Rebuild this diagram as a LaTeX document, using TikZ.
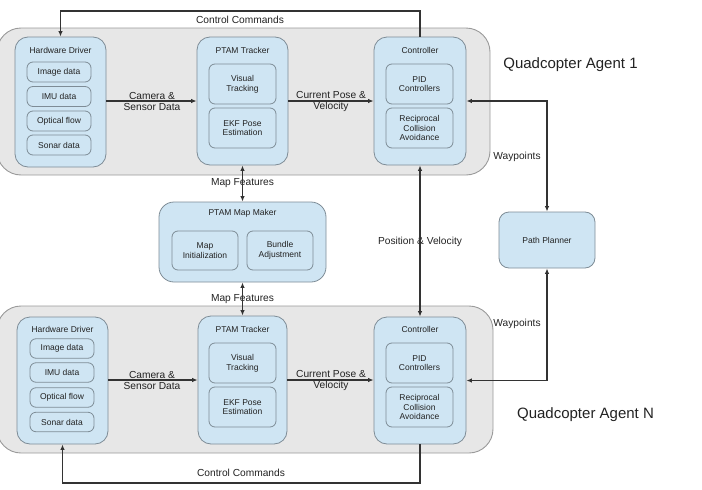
\documentclass[tikz,border=0pt]{standalone}
\usepackage{fontspec}
\setmainfont{Liberation Sans}
\usetikzlibrary{arrows.meta}
\definecolor{outerfill}{HTML}{E7E7E7}
\definecolor{outerline}{HTML}{9A9A9A}
\definecolor{bluefill}{HTML}{CFE5F3}
\definecolor{blueline}{HTML}{7E8C96}
\definecolor{linecol}{HTML}{333333}
\definecolor{txtcol}{HTML}{222222}
\newcommand\fsmall{\fontsize{8.5}{9.7}\selectfont}
\newcommand\flabel{\fontsize{10.2}{11.2}\selectfont}
\newcommand\fbig{\fontsize{15}{17}\selectfont}
\begin{document}
\begin{tikzpicture}[x=1pt,y=-1pt,
  outerbox/.style={draw=outerline, fill=outerfill, line width=0.9pt, rounded corners=24pt, inner sep=0pt},
  bigbox/.style={draw=blueline, fill=bluefill, line width=0.8pt, rounded corners=13pt, inner sep=0pt},
  smallbox/.style={draw=blueline, fill=bluefill, line width=0.8pt, rounded corners=6pt, inner sep=0pt, align=center, font=\fsmall, text=txtcol},
  title/.style={font=\fsmall, text=txtcol, inner sep=0pt},
  lbl/.style={font=\flabel, text=txtcol, align=center, inner sep=0pt},
  biglbl/.style={font=\fbig, text=txtcol, inner sep=0pt},
  conn/.style={draw=linecol, line width=1.2pt},
  arr/.style={conn, -{Latex[length=5.5pt,width=4.5pt]}},
  arrtwo/.style={conn, {Latex[length=5.5pt,width=4.5pt]}-{Latex[length=5.5pt,width=4.5pt]}}
]
\useasboundingbox (0,0) rectangle (702,490);

% ---------- Agent 1 ----------
\node[outerbox, minimum width=493pt, minimum height=147pt] (out1) at (243.5,101.5) {};
\node[bigbox, minimum width=91pt, minimum height=130pt] (hd1) at (60.5,102) {};
\node[title] (hd1t) at (60.5,50) {Hardware Driver};
\node[smallbox, minimum width=64pt, minimum height=20pt] (img1) at (59,72) {Image data};
\node[smallbox, minimum width=64pt, minimum height=20pt] (imu1) at (59,96.5) {IMU data};
\node[smallbox, minimum width=64pt, minimum height=20pt] (opt1) at (59,121) {Optical flow};
\node[smallbox, minimum width=64pt, minimum height=20pt] (son1) at (59,145) {Sonar data};

\node[bigbox, minimum width=91pt, minimum height=128pt] (trk1) at (242.5,101) {};
\node[title] (trk1t) at (242.5,50) {PTAM Tracker};
\node[smallbox, minimum width=67pt, minimum height=40pt] (vis1) at (242.5,84) {Visual\\Tracking};
\node[smallbox, minimum width=67pt, minimum height=40pt] (ekf1) at (242.5,128) {EKF Pose\\Estimation};

\node[bigbox, minimum width=92pt, minimum height=128pt] (ctl1) at (420,101) {};
\node[title] (ctl1t) at (420,50) {Controller};
\node[smallbox, minimum width=67pt, minimum height=40pt] (pid1) at (419.5,84) {PID\\Controllers};
\node[smallbox, minimum width=67pt, minimum height=40pt] (rca1) at (419.5,128) {Reciprocal\\Collision\\Avoidance};

\node[biglbl] (qa1) at (570.5,65) {Quadcopter Agent 1};

% ---------- Agent N ----------
\node[outerbox, minimum width=496pt, minimum height=147pt] (out2) at (245,379.5) {};
\node[bigbox, minimum width=91pt, minimum height=127pt] (hd2) at (62.5,380.5) {};
\node[title] (hd2t) at (62.5,329) {Hardware Driver};
\node[smallbox, minimum width=64pt, minimum height=19.5pt] (img2) at (62,348.5) {Image data};
\node[smallbox, minimum width=64pt, minimum height=19.5pt] (imu2) at (62,372.5) {IMU data};
\node[smallbox, minimum width=64pt, minimum height=19.5pt] (opt2) at (62,397.5) {Optical flow};
\node[smallbox, minimum width=64pt, minimum height=19.5pt] (son2) at (62,422) {Sonar data};

\node[bigbox, minimum width=89pt, minimum height=128pt] (trk2) at (242.5,380) {};
\node[title] (trk2t) at (242.5,329) {PTAM Tracker};
\node[smallbox, minimum width=67pt, minimum height=40pt] (vis2) at (242.5,363) {Visual\\Tracking};
\node[smallbox, minimum width=67pt, minimum height=40pt] (ekf2) at (242.5,407) {EKF Pose\\Estimation};

\node[bigbox, minimum width=92pt, minimum height=127pt] (ctl2) at (420,380.5) {};
\node[title] (ctl2t) at (420,329) {Controller};
\node[smallbox, minimum width=67pt, minimum height=40pt] (pid2) at (419.5,363) {PID\\Controllers};
\node[smallbox, minimum width=67pt, minimum height=40pt] (rca2) at (419.5,407) {Reciprocal\\Collision\\Avoidance};

\node[biglbl] (qan) at (585.5,415) {Quadcopter Agent N};

% ---------- Map maker ----------
\node[bigbox, rounded corners=15pt, minimum width=167pt, minimum height=80pt] (mm) at (242.5,242) {};
\node[title] (mmt) at (242.5,213) {PTAM Map Maker};
\node[smallbox, minimum width=66pt, minimum height=39pt] (mi) at (205,250.5) {Map\\Initialization};
\node[smallbox, minimum width=66pt, minimum height=39pt] (ba) at (280,250.5) {Bundle\\Adjustment};

% ---------- Path planner ----------
\node[smallbox, rounded corners=10pt, minimum width=96pt, minimum height=56pt] (pp) at (547,240) {Path Planner};

% ---------- Connectors ----------
\draw[arr] (hd1.east |- 0,101) -- (trk1.west |- 0,101);
\node[lbl] (cam1) at (152,101.5) {Camera \&\\Sensor Data};
\draw[arr] (trk1.east |- 0,101) -- (ctl1.west |- 0,101);
\node[lbl] (cpv1) at (331,101.5) {Current Pose \&\\Velocity};

\draw[arr] (ctl1.north) -- (ctl1.north |- 0,11) -| (hd1.north);
\node[lbl] (cc1) at (240,20) {Control Commands};

\draw[arrtwo] (pp.north) |- (ctl1.east);
\node[lbl] (wp1) at (517,157) {Waypoints};

\draw[arrtwo] (pp.south) |- (ctl2.east);
\node[lbl] (wp2) at (517,324) {Waypoints};

\node[lbl] (mf1) at (242.5,183) {Map Features};
\draw[arrtwo] (trk1.south) -- (mm.north);
\node[lbl] (mf2) at (242.5,299) {Map Features};
\draw[arrtwo] (mm.south) -- (trk2.north);

\node[lbl] (pv) at (420,242) {Position \& Velocity};
\draw[arrtwo] (ctl1.south) -- (ctl2.north);

\draw[arr] (hd2.east |- 0,380) -- (trk2.west |- 0,380);
\node[lbl] (cam2) at (152,380.5) {Camera \&\\Sensor Data};
\draw[arr] (trk2.east |- 0,380) -- (ctl2.west |- 0,380);
\node[lbl] (cpv2) at (331,380.5) {Current Pose \&\\Velocity};

\draw[arr] (ctl2.south) -- (ctl2.south |- 0,483) -| (hd2.south);
\node[lbl] (cc2) at (241,473) {Control Commands};

\end{tikzpicture}
\end{document}
